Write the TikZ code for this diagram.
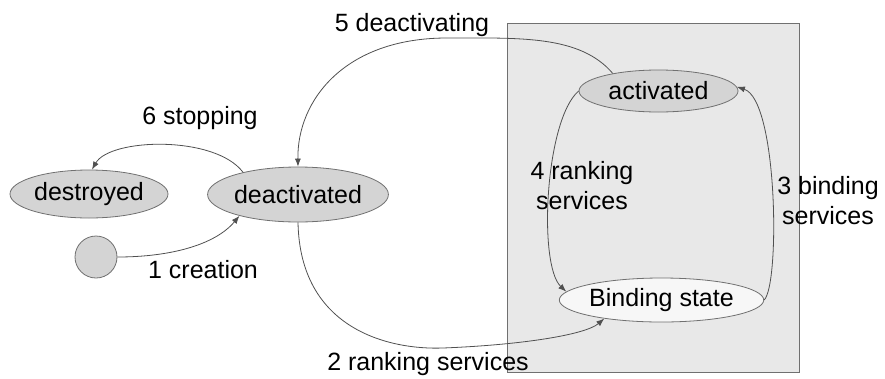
\documentclass[tikz,border=0pt]{standalone}
\usepackage{fontspec}
\setmainfont{Liberation Sans}
\usetikzlibrary{shapes.geometric,arrows.meta}
\definecolor{boxfill}{HTML}{E8E8E8}
\definecolor{boxline}{HTML}{707070}
\definecolor{stfill}{HTML}{D4D4D4}
\definecolor{edgecol}{HTML}{505050}
\tikzset{
  state/.style={ellipse,draw=boxline,line width=0.8pt,fill=stfill,inner sep=0pt,font=\fontsize{25}{30}\selectfont},
  lbl/.style={inner sep=0pt,font=\fontsize{25}{30}\selectfont,align=center},
  edge/.style={draw=edgecol,line width=0.8pt,-{Latex[length=8pt,width=6pt]}},
}
\begin{document}
\begin{tikzpicture}[x=1pt,y=-1pt]
\useasboundingbox (0,0) rectangle (885,378);
\draw[fill=boxfill,draw=boxline,line width=0.8pt] (507,23) rectangle (799,372);
\node[state,minimum width=159pt,minimum height=42pt] (act) at (658.5,91) {activated};
\node[state,fill=white!97!black,minimum width=171pt,minimum height=44pt] (bind) at (661.5,300) {Binding state};
\node[state,minimum width=158pt,minimum height=48pt] (des) at (89,194) {destroyed};
\node[state,minimum width=160pt,minimum height=55pt] (deac) at (298,194.5) {deactivated};
\node[circle,draw=boxline,line width=0.8pt,fill=stfill,minimum size=42pt,inner sep=0pt] (init) at (96,257) {};
% labels
\node[lbl] (l6) at (200,118) {6 stopping};
\node[lbl] (l1) at (203,270) {1 creation};
\node[lbl] (l5) at (412,25) {5 deactivating};
\node[lbl] (l4) at (582,186) {4 ranking\\services};
\node[lbl] (l3) at (828,201) {3 binding\\services};
\node[lbl] (l2) at (428,364) {2 ranking services};
% edges
\draw[edge] (init.east) .. controls (170,257) and (215,245) .. (deac.200);
\draw[edge] (deac.158) .. controls (215,135) and (110,138) .. (des.83);
\draw[edge] (act.159) .. controls (580,35) and (520,38) .. (447,38) .. controls (345,38) and (297,100) .. (deac.90);
\draw[edge] (deac.270) .. controls (300,330) and (390,350) .. (443,348) .. controls (520,345) and (585,335) .. (bind.198);
\draw[edge] (act.180) .. controls (545,120) and (538,265) .. (bind.175);
\draw[edge] (bind.0) .. controls (780,285) and (778,100) .. (act.3);
\end{tikzpicture}
\end{document}
